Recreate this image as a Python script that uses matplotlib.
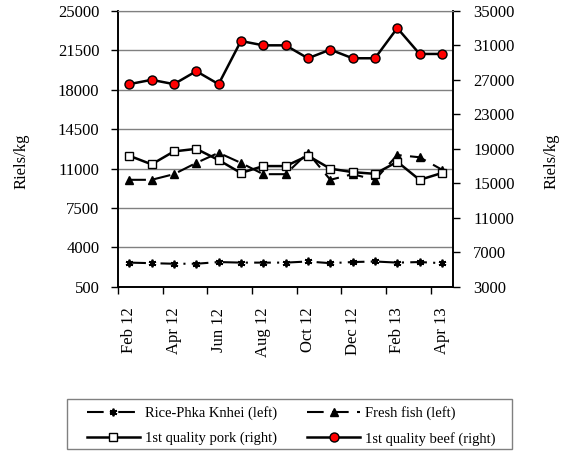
import matplotlib
matplotlib.use('Agg')
import matplotlib.pyplot as plt
from matplotlib.patches import Rectangle
import numpy as np

plt.rcParams['font.family'] = ['Liberation Serif', 'DejaVu Serif']
plt.rcParams['font.size'] = 12

# monthly prices, Feb 12 .. Apr 13
months = ['Feb 12', 'Mar 12', 'Apr 12', 'May 12', 'Jun 12', 'Jul 12', 'Aug 12', 'Sep 12',
          'Oct 12', 'Nov 12', 'Dec 12', 'Jan 13', 'Feb 13', 'Mar 13', 'Apr 13']
rice = [2650, 2600, 2550, 2550, 2700, 2650, 2650, 2650, 2750, 2600, 2700, 2750, 2650, 2700, 2600]
fish = [10000, 10000, 10500, 11500, 12400, 11500, 10500, 10500, 12400, 10000, 10500, 10000, 12200, 12000, 10900]
pork = [18200, 17200, 18700, 19000, 17700, 16200, 17000, 17000, 18200, 16700, 16300, 16100, 17500, 15400, 16200]
beef = [26500, 27000, 26500, 28000, 26500, 31500, 31000, 31000, 29500, 30500, 29500, 29500, 33000, 30000, 30000]

left_ticks = [500, 4000, 7500, 11000, 14500, 18000, 21500, 25000]
right_ticks = [3000, 7000, 11000, 15000, 19000, 23000, 27000, 31000, 35000]

x = np.arange(len(months))

fig = plt.figure(figsize=(5.65, 4.51), dpi=100)
ax = fig.add_axes([0.209, 0.364, 0.593, 0.612])
ax2 = ax.twinx()

l1, = ax.plot(x, rice, color='black', lw=1.5, dashes=(8, 3, 1, 3),
              marker=(6, 2, 0), ms=5.5, mew=1.3, label='Rice-Phka Knhei (left)')
l2, = ax.plot(x, fish, color='black', lw=1.5, dashes=(8, 4),
              marker='^', ms=6, label='Fresh fish (left)')
l3, = ax2.plot(x, pork, color='black', lw=1.8, marker='s', ms=6,
               mfc='white', mec='black', mew=1, label='1st quality pork (right)')
l4, = ax2.plot(x, beef, color='black', lw=1.8, marker='o', ms=6.5,
               mfc='red', mec='black', mew=1, label='1st quality beef (right)')

ax.set_xlim(-0.5, len(months) - 0.5)
ax.set_ylim(500, 25000)
ax.set_yticks(left_ticks)
ax2.set_ylim(3000, 35000)
ax2.set_yticks(right_ticks)

ax.grid(axis='y', color='#808080', lw=1)
ax.set_axisbelow(True)

ax.set_xticks(x[::2])
ax.set_xticklabels(months[::2], rotation=90)
ax.set_xticks(np.arange(-0.5, len(months), 2), minor=True)
ax.tick_params(axis='x', which='major', length=0, pad=15)
ax.tick_params(axis='x', which='minor', length=5, width=1)
ax.tick_params(axis='y', length=5, width=1, pad=8.5)
ax2.tick_params(axis='y', length=5, width=1, pad=9.5)

for a in (ax, ax2):
    a.spines['top'].set_color('#808080')
    for s in ('left', 'right', 'bottom'):
        a.spines[s].set_linewidth(1.2)

fig.text(0.038, 0.643, 'Riels/kg', rotation=90, ha='center', va='center')
fig.text(0.977, 0.643, 'Riels/kg', rotation=90, ha='center', va='center')

# legend box drawn separately (wider horizontal padding than matplotlib allows)
fig.patches.append(Rectangle((67 / 565, 1 - 449 / 451), 445 / 565, 50 / 451,
                             transform=fig.transFigure, fill=False,
                             edgecolor='#808080', lw=1))
leg = fig.legend([l1, l3, l2, l4], [h.get_label() for h in (l1, l3, l2, l4)],
                 loc='upper left', bbox_to_anchor=(87 / 565, 1 - 406 / 451), ncol=2,
                 frameon=False, fontsize=10.5, borderpad=0, borderaxespad=0,
                 handlelength=3.6, columnspacing=2.1,
                 labelspacing=0.8, handletextpad=0.35)

fig.savefig('out.png', dpi=100)
